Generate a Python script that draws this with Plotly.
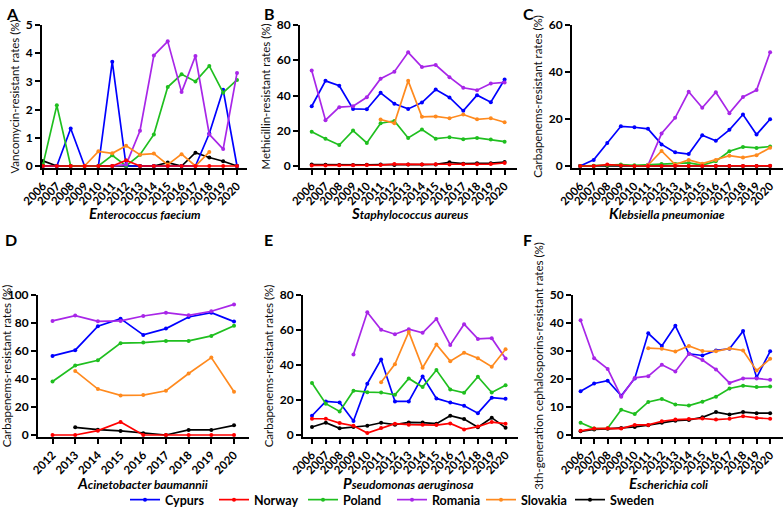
import plotly.graph_objects as go

years = list(range(2006, 2021))
years_ab = list(range(2012, 2021))
countries = ["Cypurs", "Norway", "Poland", "Romania", "Slovakia", "Sweden"]
colors = {"Cypurs": "#0000FF", "Norway": "#FF0000", "Poland": "#1FBF1F",
          "Romania": "#A826E8", "Slovakia": "#FF8A1E", "Sweden": "#000000"}
N5 = [None] * 5

vanco = {
    "Cypurs": [0, 0, 1.33, 0, 0, 3.7, 0, 0, 0, 0, 0, 0, 1.15, 2.7, 0],
    "Norway": [0, 0, 0, 0, 0, 0, 0.2, 0, 0, 0, 0, 0, 0, 0, 0],
    "Poland": [0.05, 2.15, 0, 0, 0, 0.38, 0, 0.4, 1.12, 2.8, 3.25, 3.0, 3.55, 2.6, 3.05],
    "Romania": N5 + [0, 0.05, 1.25, 3.92, 4.42, 2.62, 3.9, 1.12, 0.6, 3.3],
    "Slovakia": [None, None, None, 0, 0.52, 0.45, 0.72, 0.4, 0.44, 0.05, 0.42, 0, 0.5, None, None],
    "Sweden": [0.18, 0, 0, 0, 0, 0, 0, 0, 0, 0.12, 0, 0.47, 0.3, 0.17, 0],
}
methi = {
    "Cypurs": [33.9, 48.3, 45.5, 32.4, 32.2, 41.5, 35.3, 32.4, 36.0, 43.4, 38.9, 31.3, 40.2, 36.2, 49.1],
    "Norway": [0.3, 0.3, 0.4, 0.4, 0.5, 0.5, 1.1, 0.8, 0.9, 1.0, 0.9, 1.0, 1.0, 1.1, 1.7],
    "Poland": [19.5, 15.4, 11.9, 20.1, 13.1, 24.3, 25.6, 15.9, 20.7, 15.5, 16.3, 15.2, 15.9, 15.0, 13.8],
    "Romania": [54.2, 26.0, 33.4, 33.9, 39.0, 49.5, 53.5, 64.5, 56.1, 57.3, 50.4, 44.4, 43.0, 46.8, 47.4],
    "Slovakia": N5 + [26.4, 24.3, 48.3, 27.9, 28.1, 27.1, 29.2, 26.5, 27.1, 24.8],
    "Sweden": [0.8, 0.7, 0.6, 0.6, 0.7, 0.8, 0.6, 0.8, 0.8, 0.9, 2.1, 1.3, 1.5, 1.6, 2.2],
}
carba_kp = {
    "Cypurs": [0, 2.6, 9.8, 16.9, 16.5, 15.8, 9.2, 5.8, 5.1, 13.1, 10.7, 15.4, 21.9, 13.4, 19.9],
    "Norway": [0, 0, 0.6, 0.2, 0, 0, 0, 0.1, 0, 0, 0, 0, 0, 0, 0.1],
    "Poland": [0, 0.1, 0.3, 0.6, 0.3, 0.5, 0.8, 0.8, 1.3, 0.4, 2.0, 6.3, 8.1, 7.7, 8.3],
    "Romania": N5 + [0.3, 13.8, 20.5, 31.6, 24.8, 31.4, 22.5, 29.4, 32.3, 48.4],
    "Slovakia": N5 + [0.3, 6.4, 0.6, 2.6, 1.0, 2.6, 4.4, 3.6, 4.6, 7.8],
    "Sweden": [0, 0, 0, 0, 0, 0, 0, 0, 0, 0, 0, 0, 0, 0, 0],
}
carba_ab = {
    "Cypurs": [56.5, 60.6, 77.7, 83.1, 71.5, 76.0, 84.3, 87.4, 81.0],
    "Norway": [0, 0, 3.1, 9.3, 0, 0, 0, 0, 0],
    "Poland": [38.2, 49.6, 53.4, 65.6, 66.0, 67.2, 67.2, 70.8, 78.1],
    "Romania": [81.5, 85.3, 81.2, 81.5, 85.0, 87.4, 85.5, 88.4, 93.3],
    "Slovakia": [None, 45.8, 32.8, 28.3, 28.5, 31.6, 43.9, 55.3, 30.9],
    "Sweden": [None, 5.5, 3.8, 2.9, 1.2, 0, 3.6, 3.6, 6.9],
}
carba_pa = {
    "Cypurs": [11.0, 19.2, 18.6, 8.0, 29.3, 43.2, 19.2, 19.2, 33.5, 20.9, 18.6, 16.7, 12.5, 21.3, 20.7],
    "Norway": [9.3, 9.3, 6.8, 5.3, 1.1, 4.0, 6.5, 5.9, 5.9, 5.7, 6.6, 3.2, 4.8, 7.4, 6.5],
    "Poland": [29.7, 17.9, 13.5, 25.3, 24.5, 24.3, 23.0, 32.3, 27.4, 37.1, 26.0, 24.1, 33.3, 24.3, 28.5],
    "Romania": [None, None, None, 46.0, 70.2, 60.1, 57.6, 60.5, 58.4, 66.3, 51.5, 63.3, 54.9, 55.3, 43.7],
    "Slovakia": N5 + [30.2, 40.5, 58.9, 38.4, 51.7, 42.2, 47.0, 43.9, 39.0, 49.0],
    "Sweden": [4.6, 7.0, 3.8, 4.6, 5.3, 7.0, 5.9, 7.2, 7.1, 6.5, 11.0, 9.1, 4.4, 9.9, 4.2],
}
ceph = {
    "Cypurs": [15.6, 18.4, 19.4, 14.0, 20.2, 36.3, 31.8, 39.0, 29.0, 28.4, 30.2, 30.8, 37.1, 20.5, 29.9],
    "Norway": [1.5, 2.3, 2.4, 2.3, 3.6, 3.6, 4.9, 5.5, 5.7, 5.9, 5.5, 5.8, 6.7, 6.1, 5.8],
    "Poland": [4.4, 2.3, 2.4, 9.0, 7.5, 11.8, 12.9, 10.9, 10.5, 11.9, 13.7, 16.6, 17.6, 17.1, 17.3],
    "Romania": [41.0, 27.4, 23.6, 13.7, 20.4, 21.0, 25.1, 22.7, 29.0, 26.8, 23.4, 18.6, 20.2, 20.2, 19.7],
    "Slovakia": N5 + [31.0, 30.8, 29.8, 31.8, 30.0, 29.9, 30.9, 30.2, 23.0, 27.2],
    "Sweden": [1.3, 2.0, 2.2, 2.5, 2.9, 3.5, 4.4, 5.1, 5.4, 6.3, 8.2, 7.3, 8.2, 7.8, 7.8],
}

W, H = 784, 518
FONT = "Lato"

panels = [
    # letter, data, x years, ymax, dtick, ytitle, organism, x px domain, top?, xrange
    ("A", vanco, years, 5, 1, "Vancomycin-resistant rates (%)", "Enterococcus faecium", (42, 247), True, [2005.93, 2020.72]),
    ("B", methi, years, 80, 20, "Methicillin-resistant rates (%)", "Staphylococcus aureus", (300, 517), True, [2005.15, 2020.9]),
    ("C", carba_kp, years, 60, 20, "Carbapenems-resistant rates (%)", "Klebsiella pneumoniae", (572, 783), True, [2005.4, 2020.95]),
    ("D", carba_ab, years_ab, 100, 20, "Carbapenems-resistant rates (%)", "Acinetobacter baumannii", (38, 249), False, [2011.36, 2020.66]),
    ("E", carba_pa, years, 80, 20, "Carbapenems-resistant rates (%)", "Pseudomonas aeruginosa", (303, 518), False, [2005.35, 2020.9]),
    ("F", ceph, years, 50, 10, "3th-generation cephalosporins-resistant rates (%)", "Escherichia coli", (573, 783), False, [2005.44, 2020.95]),
]
letter_pos = {"A": (4, 2), "B": (262, 2), "C": (521, 2), "D": (3, 228), "E": (262, 228), "F": (521, 228)}
title_center = {"A": (145, 213), "B": (410, 213), "C": (667, 213), "D": (142, 483), "E": (408, 483), "F": (668, 483)}

draw_order = ["Sweden", "Cypurs", "Poland", "Romania", "Slovakia", "Norway"]

fig = go.Figure()
annotations = []
layout = {}
for i, (letter, data, xs, ymax, dtick, ytitle, organism, xpx, top, xrange_) in enumerate(panels):
    n = i + 1
    xa = "x" if n == 1 else f"x{n}"
    ya = "y" if n == 1 else f"y{n}"
    if top:
        y0px, y1px = 168, 25
    else:
        y0px, y1px = 437, 295
    delta = ymax * 2.0 / (y0px - 2 - y1px)
    for c in draw_order:
        fig.add_trace(go.Scatter(
            x=xs, y=data[c], name=c, mode="lines+markers",
            line=dict(color=colors[c], width=1.7),
            marker=dict(color=colors[c], size=4),
            xaxis=xa, yaxis=ya, showlegend=(n == 1),
            legendrank=countries.index(c) + 1,
            connectgaps=False, cliponaxis=False,
        ))
    xkey = "xaxis" if n == 1 else f"xaxis{n}"
    ykey = "yaxis" if n == 1 else f"yaxis{n}"
    layout[xkey] = dict(
        domain=[xpx[0] / W, xpx[1] / W], anchor=ya, range=xrange_, automargin=False,
        tickvals=xs, ticktext=[str(v) for v in xs], tickangle=-45,
        showline=True, linecolor="black", linewidth=2, ticks="outside",
        ticklen=5, tickwidth=1.5, tickcolor="black", showgrid=False, zeroline=False,
        tickfont=dict(family=FONT, size=11.5, color="black", weight="bold"),
    )
    layout[ykey] = dict(
        domain=[1 - y0px / H, 1 - y1px / H], anchor=xa, range=[-delta, ymax], automargin=False,
        tickvals=list(range(0, ymax + 1, dtick)),
        showline=True, linecolor="black", linewidth=2, ticks="outside",
        ticklen=5, tickwidth=2, tickcolor="black", showgrid=False, zeroline=False,
        tickfont=dict(family=FONT, size=12, color="black", weight="bold"),
        title=dict(text=ytitle, font=dict(family=FONT, size=11.5, color="#111"), standoff=4),
    )
    lx, ly = letter_pos[letter]
    annotations.append(dict(
        text=f"<b>{letter}</b>", x=lx / W, y=1 - ly / H, xref="paper", yref="paper",
        xanchor="left", yanchor="top", showarrow=False,
        font=dict(family=FONT, size=16, color="black"),
    ))
    tx, ty = title_center[letter]
    annotations.append(dict(
        text=f"<b><i><span style='font-size:15px'>{organism[0]}</span>{organism[1:]}</i></b>",
        x=tx / W, y=1 - ty / H, xref="paper", yref="paper",
        xanchor="center", yanchor="middle", showarrow=False,
        font=dict(family=FONT, size=12, color="black"),
    ))

fig.update_layout(
    width=W, height=H, margin=dict(l=0, r=0, t=0, b=0, autoexpand=False),
    paper_bgcolor="white", plot_bgcolor="white",
    font=dict(family=FONT, color="black"),
    annotations=annotations,
    legend=dict(orientation="h", x=0.5, xanchor="center", y=1 - 500 / H, yanchor="middle",
                font=dict(family=FONT, size=12.5, color="black", weight="bold"),
                traceorder="normal", entrywidth=44, entrywidthmode="pixels",
                bgcolor="rgba(0,0,0,0)"),
    **layout,
)

fig.write_html("out.html", config={"displayModeBar": False},
               post_script="document.body.style.margin='0px';")
